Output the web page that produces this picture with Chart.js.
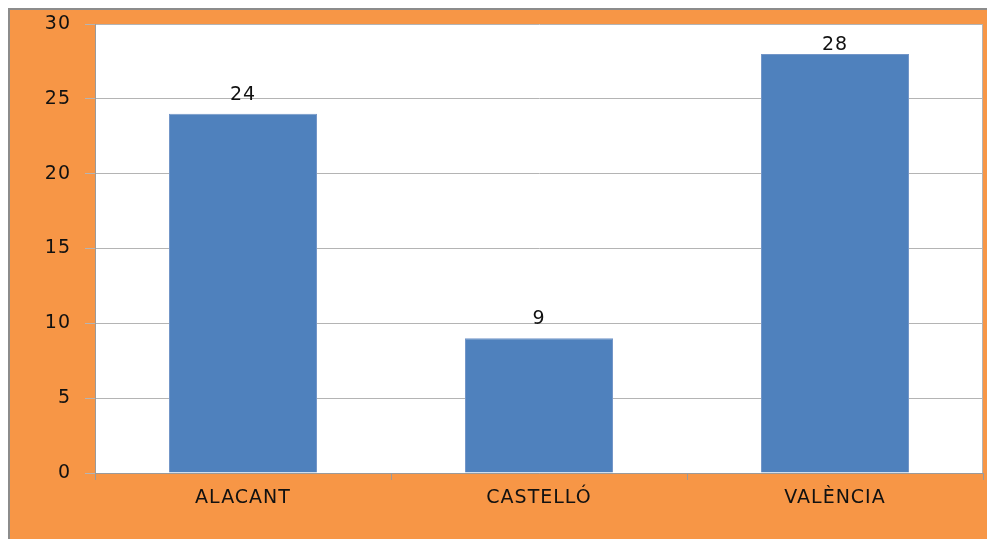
<!DOCTYPE html>
<html>
<head>
<meta charset="utf-8">
<script src="https://cdn.jsdelivr.net/npm/chart.js@4.4.1/dist/chart.umd.min.js"></script>
<style>
  html, body { margin: 0; padding: 0; background: #ffffff; }
  #wrap { position: relative; width: 987px; height: 539px; }
</style>
</head>
<body>
<div id="wrap"><canvas id="c" width="987" height="539"></canvas></div>
<script>
const categories = ['ALACANT', 'CASTELLÓ', 'VALÈNCIA'];
const values = [24, 9, 28];
const yTicks = [0, 5, 10, 15, 20, 25, 30];

const FONT = 'DejaVu Sans';
const SPACING = '1px';

const backgroundPlugin = {
  id: 'bgFrame',
  beforeLayout(chart) { chart.ctx.letterSpacing = SPACING; },
  beforeDraw(chart) {
    const ctx = chart.ctx;
    ctx.letterSpacing = SPACING;
    ctx.save();
    ctx.fillStyle = '#ffffff';
    ctx.fillRect(0, 0, chart.width, chart.height);
    ctx.fillStyle = '#8c8c8c';
    ctx.fillRect(8, 8, chart.width - 8, chart.height - 8);
    ctx.fillStyle = '#f79646';
    ctx.fillRect(10, 10, chart.width - 10, chart.height - 10);
    const a = chart.chartArea;
    ctx.fillStyle = '#ffffff';
    ctx.fillRect(a.left, a.top, a.right - a.left, a.bottom - a.top);
    ctx.restore();
  },
  afterDraw(chart) {
    const ctx = chart.ctx;
    const a = chart.chartArea;
    ctx.save();
    ctx.strokeStyle = '#b4b4b4';
    ctx.lineWidth = 1;
    ctx.beginPath();
    ctx.moveTo(Math.round(a.right) - 0.5, a.top);
    ctx.lineTo(Math.round(a.right) - 0.5, a.bottom);
    ctx.stroke();
    ctx.restore();
  }
};

const labelPlugin = {
  id: 'barLabels',
  afterDatasetsDraw(chart) {
    const ctx = chart.ctx;
    const meta = chart.getDatasetMeta(0);
    const top = chart.chartArea.top;
    ctx.save();
    ctx.fillStyle = '#111111';
    ctx.font = '19px "' + FONT + '"';
    ctx.letterSpacing = SPACING;
    ctx.textAlign = 'center';
    ctx.textBaseline = 'alphabetic';
    meta.data.forEach((bar, i) => {
      const baseline = Math.max(bar.y - 14, top + 26);
      ctx.fillText(String(values[i]), bar.x, baseline);
    });
    ctx.restore();
  }
};

new Chart(document.getElementById('c'), {
  type: 'bar',
  data: {
    labels: categories,
    datasets: [{
      data: values,
      backgroundColor: '#4f81bd',
      borderColor: '#7396c8',
      borderWidth: 1,
      barPercentage: 0.5,
      categoryPercentage: 1.0
    }]
  },
  options: {
    responsive: false,
    animation: false,
    devicePixelRatio: 1,
    layout: { padding: { left: 0, top: 24, right: 4, bottom: 0 } },
    plugins: {
      legend: { display: false },
      tooltip: { enabled: false },
      title: { display: false }
    },
    scales: {
      x: {
        offset: true,
        grid: {
          offset: true,
          drawOnChartArea: false,
          drawTicks: true,
          tickLength: 7,
          color: '#9a9a9a'
        },
        border: { display: true, color: '#9a9a9a' },
        ticks: {
          color: '#111111',
          font: { family: FONT, size: 19 },
          padding: 7,
          maxRotation: 0
        },
        afterFit(scale) { scale.height = 66; }
      },
      y: {
        min: 0,
        max: 30,
        afterBuildTicks(scale) { scale.ticks = yTicks.map(v => ({ value: v })); },
        grid: {
          color: '#b4b4b4',
          tickLength: 10,
          drawTicks: true
        },
        border: { display: true, color: '#9a9a9a' },
        ticks: {
          color: '#111111',
          font: { family: FONT, size: 19, lineHeight: 1.0 },
          padding: 14
        },
        afterFit(scale) { scale.width = 95; }
      }
    }
  },
  plugins: [backgroundPlugin, labelPlugin]
});
</script>
</body>
</html>
